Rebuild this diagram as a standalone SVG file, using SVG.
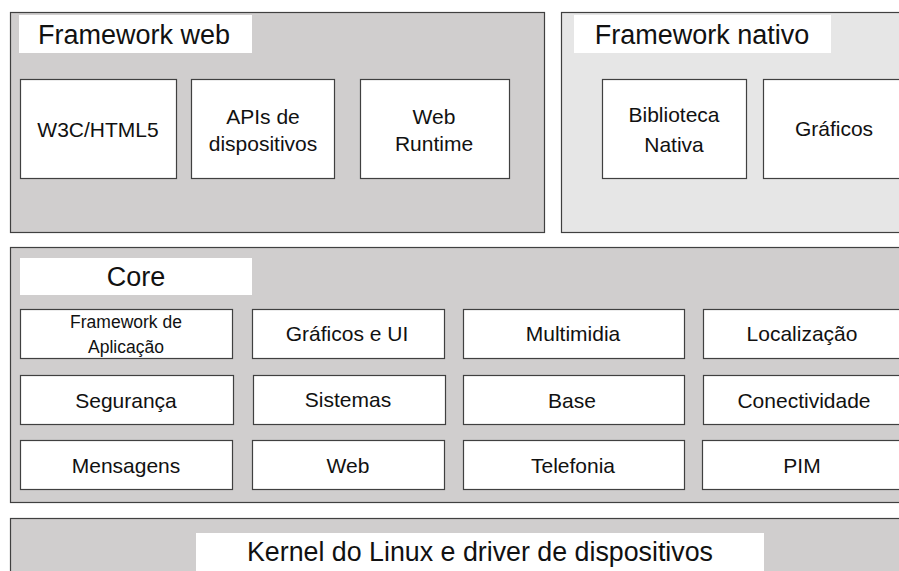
<svg xmlns="http://www.w3.org/2000/svg" width="899" height="571" viewBox="0 0 899 571">
<style>
.panel{fill:#d0cece;stroke:#404040;stroke-width:1.2}
.light{fill:#e6e6e6;stroke:#404040;stroke-width:1.2}
.title{fill:#ffffff;stroke:none}
.box{fill:#ffffff;stroke:#404040;stroke-width:1.2}
text{font-family:"Liberation Sans",Arial,sans-serif;fill:#111111;text-anchor:middle}
.t{font-size:27px}
.l{font-size:21px}
.s{font-size:17.5px}
</style>
<g id="framework-web">
<rect class="panel" x="10.5" y="12.5" width="534" height="220"/>
<rect class="title" x="19" y="15" width="233" height="38"/>
<text class="t" x="134" y="44">Framework web</text>
</g>
<g id="w3c"><rect class="box" x="20.5" y="79.5" width="156" height="99"/><text class="l" x="98" y="137">W3C/HTML5</text></g>
<g id="apis"><rect class="box" x="191.5" y="79.5" width="143" height="99"/><text class="l" x="263" y="124">APIs de</text><text class="l" x="263" y="151">dispositivos</text></g>
<g id="webruntime"><rect class="box" x="360.5" y="79.5" width="149" height="99"/><text class="l" x="434" y="124">Web</text><text class="l" x="434" y="151">Runtime</text></g>
<g id="framework-nativo">
<rect class="light" x="561.5" y="12.5" width="345" height="220"/>
<rect class="title" x="574" y="15" width="257" height="38"/>
<text class="t" x="702" y="44">Framework nativo</text>
</g>
<g id="biblioteca"><rect class="box" x="602.5" y="79.5" width="144" height="99"/><text class="l" x="674" y="122">Biblioteca</text><text class="l" x="674" y="152">Nativa</text></g>
<g id="graficos"><rect class="box" x="763.5" y="79.5" width="150" height="99"/><text class="l" x="834" y="136">Gráficos</text></g>
<g id="core">
<rect class="panel" x="10.5" y="247.5" width="900" height="255"/>
<rect class="title" x="20" y="258" width="232" height="37"/>
<text class="t" x="136" y="286">Core</text>
</g>
<g id="framework-aplicacao"><rect class="box" x="20.5" y="309.5" width="212" height="49"/><text class="s" x="126" y="328">Framework de</text><text class="s" x="126" y="353">Aplicação</text></g>
<g id="graficos-ui"><rect class="box" x="252.5" y="309.5" width="192" height="49"/><text class="l" x="347" y="341">Gráficos e UI</text></g>
<g id="multimidia"><rect class="box" x="463.5" y="309.5" width="221" height="49"/><text class="l" x="573" y="341">Multimidia</text></g>
<g id="localizacao"><rect class="box" x="703.5" y="309.5" width="210" height="49"/><text class="l" x="802" y="341">Localização</text></g>
<g id="seguranca"><rect class="box" x="20.5" y="375.5" width="213" height="49"/><text class="l" x="126" y="408">Segurança</text></g>
<g id="sistemas"><rect class="box" x="253.5" y="375.5" width="192" height="49"/><text class="l" x="348" y="407">Sistemas</text></g>
<g id="base"><rect class="box" x="463.5" y="375.5" width="221" height="49"/><text class="l" x="572" y="408">Base</text></g>
<g id="conectividade"><rect class="box" x="703.5" y="375.5" width="210" height="49"/><text class="l" x="804" y="408">Conectividade</text></g>
<g id="mensagens"><rect class="box" x="20.5" y="440.5" width="212" height="49"/><text class="l" x="126" y="473">Mensagens</text></g>
<g id="web"><rect class="box" x="252.5" y="440.5" width="192" height="49"/><text class="l" x="348" y="473">Web</text></g>
<g id="telefonia"><rect class="box" x="463.5" y="440.5" width="221" height="49"/><text class="l" x="573" y="473">Telefonia</text></g>
<g id="pim"><rect class="box" x="702.5" y="440.5" width="210" height="49"/><text class="l" x="802" y="473">PIM</text></g>
<g id="kernel">
<rect class="panel" x="10.5" y="518.5" width="900" height="60"/>
<rect class="title" x="196" y="533" width="568" height="38"/>
<text class="t" x="480" y="561" textLength="466" lengthAdjust="spacingAndGlyphs">Kernel do Linux e driver de dispositivos</text>
</g>
<g id="connectors"></g>
</svg>
